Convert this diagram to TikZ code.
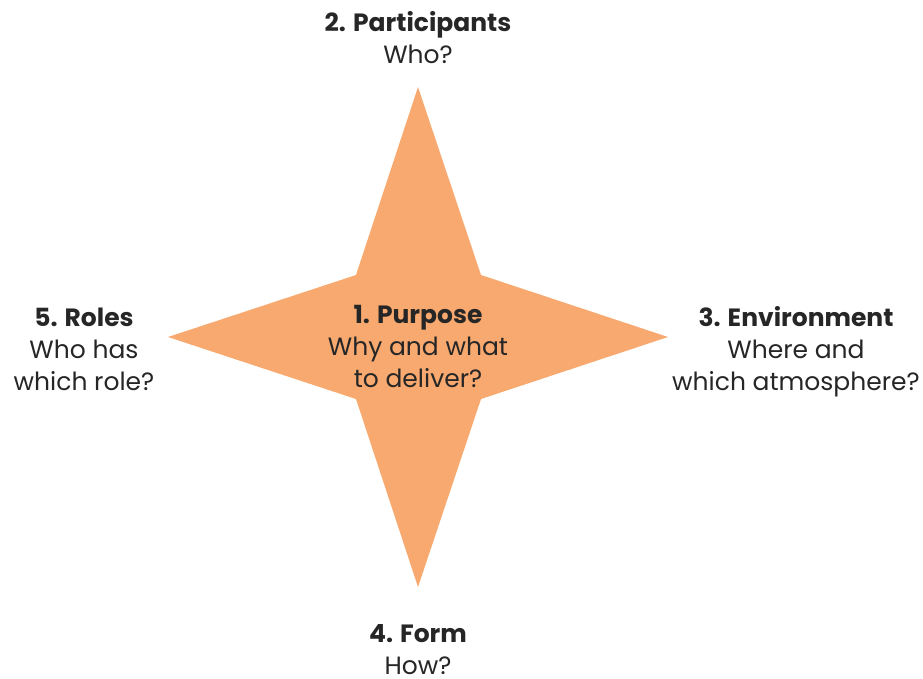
\documentclass[tikz,border=0pt]{standalone}
\usepackage{fontspec}
\setmainfont{Poppins}
\definecolor{starfill}{HTML}{F8A96F}
\definecolor{txt}{HTML}{262626}
\begin{document}
\begin{tikzpicture}[x=1pt,y=-1pt,
  lbl/.style={anchor=base,align=center,text=txt,inner sep=0pt,font=\fontsize{25}{32}\selectfont}]
\useasboundingbox (0,0) rectangle (923,678);
\fill[starfill] (418,87) -- (481,275) -- (668,337) -- (481,399) -- (418,587) -- (356,399) -- (168,337) -- (356,275) -- cycle;
\node[lbl] (purpose) at (418,387) {\textbf{1. Purpose}\\Why and what\\to deliver?};
\node[lbl] (participants) at (418,63) {\textbf{2. Participants}\\Who?};
\node[lbl] (environment) at (796,390) {\textbf{3. Environment}\\Where and\\which atmosphere?};
\node[lbl,text depth=0pt] (form) at (418,674) {\textbf{4. Form}\\How?};
\node[lbl] (roles) at (84,390) {\textbf{5. Roles}\\Who has\\which role?};
\end{tikzpicture}
\end{document}
